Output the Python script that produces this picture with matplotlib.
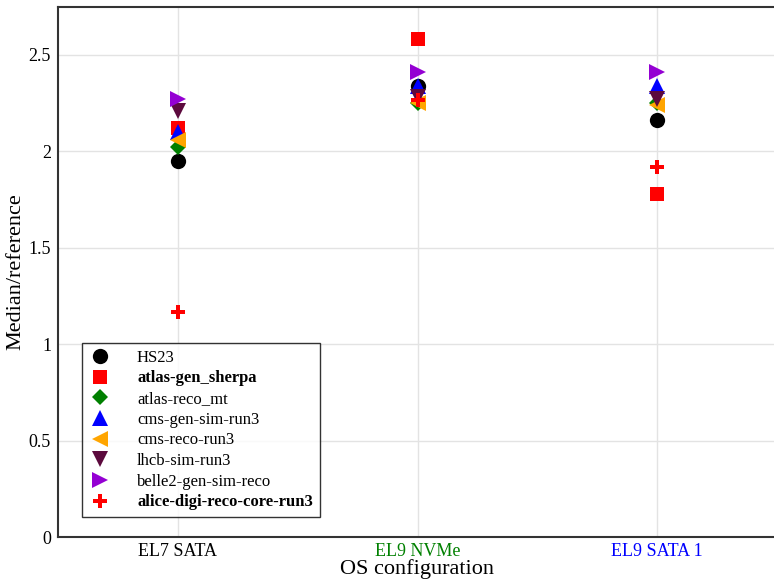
import matplotlib.pyplot as plt

plt.rcParams['font.family'] = ['Liberation Serif', 'DejaVu Serif']

configs = ['EL7 SATA', 'EL9 NVMe', 'EL9 SATA 1']
config_colors = ['black', 'green', 'blue']

workloads = ['HS23', 'atlas-gen_sherpa', 'atlas-reco_mt', 'cms-gen-sim-run3',
             'cms-reco-run3', 'lhcb-sim-run3', 'belle2-gen-sim-reco',
             'alice-digi-reco-core-run3']
hs23 = [1.95, 2.34, 2.16]
atlas_gen_sherpa = [2.12, 2.58, 1.78]
atlas_reco_mt = [2.02, 2.25, 2.25]
cms_gen_sim = [2.10, 2.34, 2.34]
cms_reco = [2.06, 2.25, 2.24]
lhcb_sim = [2.21, 2.28, 2.27]
belle2 = [2.27, 2.41, 2.41]
alice = [1.165, 2.265, 1.92]

series = [hs23, atlas_gen_sherpa, atlas_reco_mt, cms_gen_sim, cms_reco,
          lhcb_sim, belle2, alice]
markers = ['o', 's', 'D', '^', '<', 'v', '>', 'P']
colors = ['black', 'red', 'green', 'blue', 'orange', '#5c0a3d', '#9400d3', 'red']
sizes = [11, 9.5, 8, 11, 11, 11, 11, 9.5]
bold = ['atlas-gen_sherpa', 'alice-digi-reco-core-run3']

fig = plt.figure(figsize=(7.74, 5.82), dpi=100)
ax = fig.add_axes([58 / 774, 45 / 582, 719 / 774, 530.5 / 582])

for name, vals, m, c, s in zip(workloads, series, markers, colors, sizes):
    ax.plot(range(len(configs)), vals, linestyle='none', marker=m, color=c,
            markersize=s, label=name, markeredgewidth=0)

ax.set_xlim(-0.5, 2.5)
ax.set_ylim(0, 2.75)
ax.set_xticks(range(len(configs)))
ax.set_xticklabels(configs, fontsize=13)
for lbl, c in zip(ax.get_xticklabels(), config_colors):
    lbl.set_color(c)
ax.set_yticks([0, 0.5, 1, 1.5, 2, 2.5])
ax.set_yticklabels(['0', '0.5', '1', '1.5', '2', '2.5'], fontsize=13)
ax.tick_params(axis='y', length=0, pad=5)
ax.tick_params(axis='x', length=0, pad=4)
ax.grid(True, color='#e3e3e3', linewidth=1)
ax.set_axisbelow(True)
for side in ['left', 'bottom', 'top']:
    ax.spines[side].set_color('#333333')
    ax.spines[side].set_linewidth(1.5)
ax.spines['right'].set_visible(False)

ax.set_xlabel('OS configuration', fontsize=16, labelpad=0)
ax.set_ylabel('Median/reference', fontsize=16, labelpad=2)

leg = ax.legend(loc='lower left', bbox_to_anchor=(0.0334, 0.0377), fontsize=12,
                frameon=True, fancybox=False, edgecolor='black',
                borderaxespad=0, borderpad=0.4, labelspacing=0.28,
                handletextpad=1.6, handlelength=1.3)
leg.get_frame().set_linewidth(1.0)
for t in leg.get_texts():
    if t.get_text() in bold:
        t.set_fontweight('bold')

fig.savefig('out.png', dpi=100)
